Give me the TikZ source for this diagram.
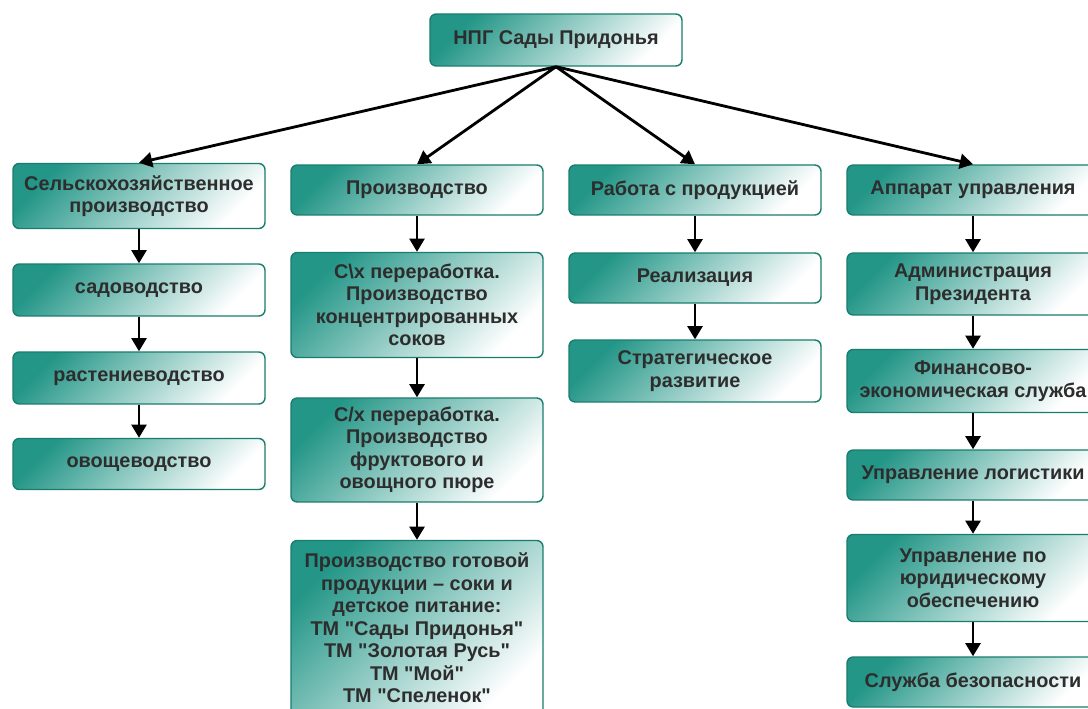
\documentclass[tikz,border=0pt]{standalone}
\usepackage{fontspec}
\setmainfont{Liberation Sans}
\usetikzlibrary{arrows.meta}
\definecolor{boxteal}{RGB}{35,150,135}
\definecolor{boxline}{RGB}{25,125,110}
\definecolor{boxtext}{RGB}{45,45,45}
\newcommand{\qt}{\XeTeXglyph\XeTeXcharglyph"22\relax}
\tikzset{
  orgbox/.style={draw=boxline, line width=0.8pt, rounded corners=3.5pt,
    top color=boxteal, middle color=boxteal!75!white, bottom color=white, shading angle=45,
    text=boxtext, font=\fontsize{11.3}{12.8}\selectfont\bfseries, align=center,
    minimum width=5.04cm, inner sep=1pt},
  link/.style={->, line width=1.6pt}
}
\begin{document}
\begin{tikzpicture}[>={Triangle[width=8.5pt,length=7.5pt]}, x=0.02cm, y=-0.02cm]
\clip (0,0) rectangle (1088,709);
\fill[white] (0,0) rectangle (1088,709);

\node[orgbox, minimum height=1.04cm] (top) at (556,40) {НПГ Сады Придонья};

% first level
\node[orgbox, minimum height=1.3cm] (agri) at (139,196) {Сельскохозяйственное\\производство};
\node[orgbox, minimum height=1cm] (prod) at (417,190) {Производство};
\node[orgbox, minimum height=1cm] (work) at (695,190) {Работа с продукцией};
\node[orgbox, minimum height=1cm] (appar) at (973,190) {Аппарат управления};

% agriculture
\node[orgbox, minimum height=1.04cm] (sad) at (139,290) {садоводство};
\node[orgbox, minimum height=1.04cm] (rast) at (139,378) {растениеводство};
\node[orgbox, minimum height=1.02cm] (ovosh) at (139,464) {овощеводство};

% production
\node[orgbox, minimum height=2.1cm] (soki) at (417,305) {С\textbackslash х переработка.\\Производство\\концентрированных\\соков};
\node[orgbox, minimum height=2.08cm] (pure) at (417,450) {С/х переработка.\\Производство\\фруктового и\\овощного пюре};
\node[orgbox, minimum height=3.5cm] (gotov) at (417,628) {Производство готовой\\продукции – соки и\\детское питание:\\ТМ \qt Сады Придонья\qt\\ТМ \qt Золотая Русь\qt\\ТМ \qt Мой\qt\\ТМ \qt Спеленок\qt};

% products
\node[orgbox, minimum height=1cm] (real) at (695,278) {Реализация};
\node[orgbox, minimum height=1.24cm] (strat) at (695,371) {Стратегическое\\развитие};

% management
\node[orgbox, minimum height=1.24cm] (admin) at (973,284) {Администрация\\Президента};
\node[orgbox, minimum height=1.26cm] (fin) at (973,381) {Финансово-\\экономическая служба};
\node[orgbox, minimum height=1cm] (log) at (973,475) {Управление логистики};
\node[orgbox, minimum height=1.74cm] (jur) at (973,578) {Управление по\\юридическому\\обеспечению};
\node[orgbox, minimum height=1cm] (sec) at (973,682) {Служба безопасности};

\foreach \t in {agri,prod,work,appar}
  \draw[link] (top.south) -- (\t.north);
\draw[link] (agri) -- (sad);
\draw[link] (sad) -- (rast);
\draw[link] (rast) -- (ovosh);
\draw[link] (prod) -- (soki);
\draw[link] (soki) -- (pure);
\draw[link] (pure) -- (gotov);
\draw[link] (work) -- (real);
\draw[link] (real) -- (strat);
\draw[link] (appar) -- (admin);
\draw[link] (admin) -- (fin);
\draw[link] (fin) -- (log);
\draw[link] (log) -- (jur);
\draw[link] (jur) -- (sec);
\end{tikzpicture}
\end{document}
